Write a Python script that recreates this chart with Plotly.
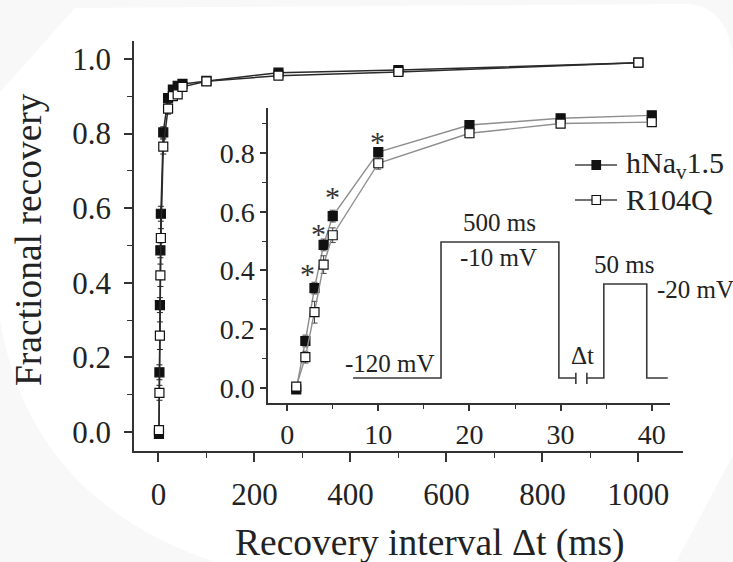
import plotly.graph_objects as go

# Recovery from inactivation: fractional recovery vs. recovery interval (ms)
interval_ms = [1, 2, 3, 4, 5, 10, 20, 30, 40, 50, 100, 250, 500, 1000]
hnav15 = [-0.005, 0.16, 0.34, 0.487, 0.585, 0.803, 0.895, 0.918, 0.928, 0.933, 0.941, 0.963, 0.970, 0.990]
hnav15_err = [0.01, 0.02, 0.02, 0.02, 0.02, 0.015, 0.01, 0.01, 0.01, 0.01, 0.01, 0.01, 0.01, 0.01]
r104q = [0.005, 0.105, 0.258, 0.42, 0.52, 0.765, 0.867, 0.900, 0.905, 0.925, 0.940, 0.955, 0.965, 0.990]
r104q_err = [0.01, 0.02, 0.037, 0.03, 0.025, 0.02, 0.015, 0.01, 0.01, 0.01, 0.01, 0.01, 0.01, 0.01]

main_xticks = [0, 200, 400, 600, 800, 1000]
main_yticks = [0.0, 0.2, 0.4, 0.6, 0.8, 1.0]
inset_xticks = [0, 10, 20, 30, 40]
inset_yticks = [0.0, 0.2, 0.4, 0.6, 0.8]
inset_limit = 40  # inset shows the first 40 ms

W, H = 733, 562
FONT = "Liberation Serif"
INK = "#222222"
AXIS = "#333333"


def px(x):
    return x / W


def py(y):
    return 1 - y / H


n_in = sum(1 for t in interval_ms if t <= inset_limit)

fig = go.Figure()

series = [
    ("hNa<sub>v</sub>1.5", hnav15, hnav15_err, "#111111"),
    ("R104Q", r104q, r104q_err, "white"),
]

# main panel
for name, vals, err, fill in series:
    fig.add_trace(go.Scatter(
        x=interval_ms, y=vals, name=name, mode="lines+markers",
        xaxis="x", yaxis="y",
        line=dict(color="#2a2a2a", width=1.5),
        marker=dict(symbol="square", size=9, color=fill, line=dict(color="#111111", width=1.2)),
        error_y=dict(type="data", array=err, visible=True, color="#222222", thickness=1, width=3),
        showlegend=False,
    ))

# inset panel (first 40 ms)
for name, vals, err, fill in series:
    fig.add_trace(go.Scatter(
        x=interval_ms[:n_in], y=vals[:n_in], name=name, mode="lines+markers",
        xaxis="x2", yaxis="y2",
        line=dict(color="#8e8e8e", width=1.4),
        marker=dict(symbol="square", size=9, color=fill, line=dict(color="#111111", width=1.2)),
        error_y=dict(type="data", array=err[:n_in], visible=True, color="#444444", thickness=1, width=3),
        showlegend=False,
    ))

axis_common = dict(
    showline=True, linecolor=AXIS, linewidth=1.5, ticks="outside", tickcolor=AXIS,
    tickwidth=1.5, showgrid=False, zeroline=False,
)

fig.update_layout(
    width=W, height=H,
    margin=dict(l=0, r=0, t=0, b=0),
    paper_bgcolor="#f8f8f8",
    plot_bgcolor="rgba(0,0,0,0)",
    font=dict(family=FONT, color=INK),
    showlegend=False,
    xaxis=dict(
        domain=[px(134), px(683)], range=[-51, 1093], anchor="y",
        tickvals=main_xticks, ticklen=9, ticklabelstandoff=6,
        tickfont=dict(family=FONT, size=31, color=INK),
        minor=dict(ticks="outside", dtick=100, tick0=0, ticklen=5, tickcolor=AXIS, tickwidth=1.2),
        **axis_common,
    ),
    yaxis=dict(
        domain=[py(451), py(41)], range=[-0.051, 1.048], anchor="x",
        tickvals=main_yticks, tickformat=".1f", ticklen=8, ticklabelstandoff=7,
        tickfont=dict(family=FONT, size=31, color=INK),
        minor=dict(ticks="outside", dtick=0.1, tick0=0, ticklen=5, tickcolor=AXIS, tickwidth=1.2),
        **axis_common,
    ),
    xaxis2=dict(
        domain=[px(268), px(670)], range=[-2.1, 42], anchor="y2",
        tickvals=inset_xticks, ticklen=6,
        tickfont=dict(family=FONT, size=28, color=INK),
        minor=dict(ticks="outside", dtick=5, tick0=0, ticklen=4, tickcolor=AXIS, tickwidth=1.2),
        **axis_common,
    ),
    yaxis2=dict(
        domain=[py(403), py(108)], range=[-0.051, 0.953], anchor="x2",
        tickvals=inset_yticks, tickformat=".1f", ticklen=6,
        tickfont=dict(family=FONT, size=28, color=INK),
        minor=dict(ticks="outside", dtick=0.1, tick0=0, ticklen=4, tickcolor=AXIS, tickwidth=1.2),
        **axis_common,
    ),
)

# soft rounded page background
path = f"M {px(0)},{py(92)} L {px(75)},{py(8)} L {px(690)},{py(4)} " \
       f"Q {px(733)},{py(10)} {px(733)},{py(70)} L {px(733)},{py(455)} " \
       f"L {px(676)},{py(562)} L {px(215)},{py(562)} Q {px(30)},{py(500)} {px(0)},{py(320)} Z"
fig.add_shape(type="path", path=path, xref="paper", yref="paper",
              fillcolor="white", line=dict(width=0), layer="below")

# key: line segment, square symbol and series name
for i, (name, _, _, fill) in enumerate(series):
    yc = 165 + 35 * i
    fig.add_shape(type="line", x0=px(575), x1=px(617), y0=py(yc), y1=py(yc),
                  xref="paper", yref="paper", line=dict(color="#444444", width=1.5))
    fig.add_shape(type="rect", x0=px(592), x1=px(600.5), y0=py(yc + 4.5), y1=py(yc - 4.5),
                  xref="paper", yref="paper", fillcolor=fill, line=dict(color="#111111", width=1.2))
    fig.add_annotation(x=px(624), y=py(yc), xref="paper", yref="paper", text=name,
                       showarrow=False, xanchor="left", yanchor="middle",
                       font=dict(family=FONT, size=30, color=INK))

# voltage protocol drawn in inset units
base, step1, step2 = 0.034, 0.497, 0.354
proto = (f"M 7.23,{base} L 16.88,{base} L 16.88,{step1} L 29.81,{step1} L 29.81,{base} L 31.67,{base} "
         f"M 32.88,{base} L 34.74,{base} L 34.74,{step2} L 39.45,{step2} L 39.45,{base} L 41.75,{base}")
fig.add_shape(type="path", path=proto, xref="x2", yref="y2", line=dict(color="#3a3a3a", width=1.6))
for xb in (31.67, 32.88):
    fig.add_shape(type="line", x0=xb, x1=xb, y0=0.014, y1=0.052, xref="x2", yref="y2",
                  line=dict(color="#3a3a3a", width=1.6))

proto_labels = [
    ("500 ms", 23.3, 0.565, "center"),
    ("-10 mV", 23.2, 0.443, "center"),
    ("-120 mV", 11.3, 0.085, "center"),
    ("Δt", 32.4, 0.109, "center"),
    ("50 ms", 37.0, 0.419, "center"),
    ("-20 mV", 40.3, 0.334, "left"),
]
for txt, xx, yy, anc in proto_labels:
    fig.add_annotation(x=xx, y=yy, xref="x2", yref="y2", text=txt, showarrow=False,
                       xanchor=anc, yanchor="middle", font=dict(family=FONT, size=25, color=INK))

# significance marks
for xx, yy in [(2.19, 0.402), (3.40, 0.538), (4.93, 0.664), (9.86, 0.854)]:
    fig.add_annotation(x=xx, y=yy, xref="x2", yref="y2", text="*", showarrow=False,
                       yshift=-4, font=dict(family=FONT, size=30, color="#333333"))

# axis titles
fig.add_annotation(x=px(430), y=py(543), xref="paper", yref="paper", text="Recovery interval Δt (ms)",
                   showarrow=False, xanchor="center", yanchor="middle",
                   font=dict(family=FONT, size=37.5, color=INK))
fig.add_annotation(x=px(29), y=py(240), xref="paper", yref="paper", text="Fractional recovery",
                   showarrow=False, textangle=-90, xanchor="center", yanchor="middle",
                   font=dict(family=FONT, size=37.5, color=INK))

fig.write_html("out.html")
